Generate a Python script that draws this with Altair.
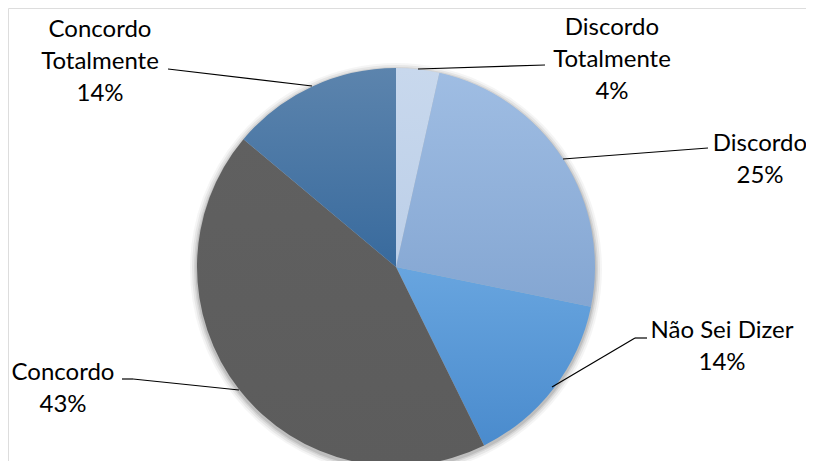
import math
import altair as alt
import pandas as pd

# ---- data ----
categories = ["Discordo Totalmente", "Discordo", "Não Sei Dizer", "Concordo", "Concordo Totalmente"]
values = [3.5, 24.7, 14.5, 43.4, 13.9]
pct_labels = ["4%", "25%", "14%", "43%", "14%"]

# ---- styling / layout (kept separate from the data) ----
W, H = 798, 453
CX, CY, R = 388, 259, 199
gradients = {
    "Discordo Totalmente": ("#c8d8ed", "#bccfe8"),
    "Discordo": ("#9fbde3", "#84a6d2"),
    "Não Sei Dizer": ("#68a5df", "#4a8bcd"),
    "Concordo": ("#606060", "#5c5c5c"),
    "Concordo Totalmente": ("#5c84ad", "#386a9d"),
}
label_pos = {  # centre of first text line (px)
    "Discordo Totalmente": (604, 20),
    "Discordo": (752, 136),
    "Não Sei Dizer": (714, 323),
    "Concordo": (55, 365),
    "Concordo Totalmente": (92, 22),
}
leader_lines = [  # segments (px)
    ("Discordo Totalmente", 410, 61, 537, 57),
    ("Discordo", 555, 151, 700, 140),
    ("Não Sei Dizer", 544, 379, 627, 330),
    ("Não Sei Dizer", 627, 330, 639, 330),
    ("Concordo", 231, 382, 125, 371),
    ("Concordo", 125, 371, 114, 371),
    ("Concordo Totalmente", 304, 78, 160, 61),
]

df = pd.DataFrame({
    "cat": categories,
    "value": values,
    "pct": pct_labels,
    "order": list(range(len(categories))),
})

theta_scale = alt.Scale(domain=[0, 100], range=[0, 2 * math.pi])

base = (
    alt.Chart(df)
    .transform_window(cum="sum(value)", sort=[alt.SortField("order")], frame=[None, 0])
    .transform_calculate(start="datum.cum - datum.value")
)

layers = []

# soft shadow rings
for k, op in [(7, 0.04), (5, 0.06), (3, 0.08), (1.5, 0.10)]:
    layers.append(
        base.mark_arc(radius=R + k, color="#000000", opacity=op, strokeWidth=0)
        .encode(
            theta=alt.Theta("start:Q", scale=theta_scale),
            theta2="cum:Q",
            x=alt.value(CX),
            y=alt.value(CY + 2),
        )
    )

# slices, each with its own vertical gradient
for cat in categories:
    c1, c2 = gradients[cat]
    grad = {
        "gradient": "linear",
        "x1": 0, "y1": 0, "x2": 0, "y2": 1,
        "stops": [{"offset": 0, "color": c1}, {"offset": 1, "color": c2}],
    }
    layers.append(
        base.transform_filter(alt.datum.cat == cat)
        .mark_arc(radius=R, fill=grad, strokeWidth=0)
        .encode(
            theta=alt.Theta("start:Q", scale=theta_scale),
            theta2="cum:Q",
            x=alt.value(CX),
            y=alt.value(CY),
        )
    )

# leader lines
lines_df = pd.DataFrame(leader_lines, columns=["cat", "x", "y", "x2", "y2"])
layers.append(
    alt.Chart(lines_df)
    .mark_rule(color="#000000", strokeWidth=1.2)
    .encode(
        x=alt.X("x:Q", scale=None, axis=None),
        y=alt.Y("y:Q", scale=None, axis=None),
        x2="x2:Q",
        y2="y2:Q",
    )
)

# labels
lab_df = df.copy()
lab_df["label"] = [
    c.replace(" Totalmente", "\nTotalmente") + "\n" + p for c, p in zip(categories, pct_labels)
]
lab_df["lx"] = [label_pos[c][0] for c in categories]
lab_df["ly"] = [label_pos[c][1] for c in categories]
layers.append(
    alt.Chart(lab_df)
    .mark_text(
        font="Lato", fontSize=24, color="#000000", align="center",
        baseline="middle", lineBreak="\n", lineHeight=32,
    )
    .encode(
        x=alt.X("lx:Q", scale=None, axis=None),
        y=alt.Y("ly:Q", scale=None, axis=None),
        text="label:N",
    )
)

chart = (
    alt.layer(*layers)
    .properties(width=W, height=H, autosize=alt.AutoSizeParams(type="none"), padding=0)
    .configure_view(strokeWidth=0, stroke="transparent", strokeOpacity=0)
    .configure(background="#ffffff")
)

chart.save("out.html", embed_options={"renderer": "svg", "actions": False})
